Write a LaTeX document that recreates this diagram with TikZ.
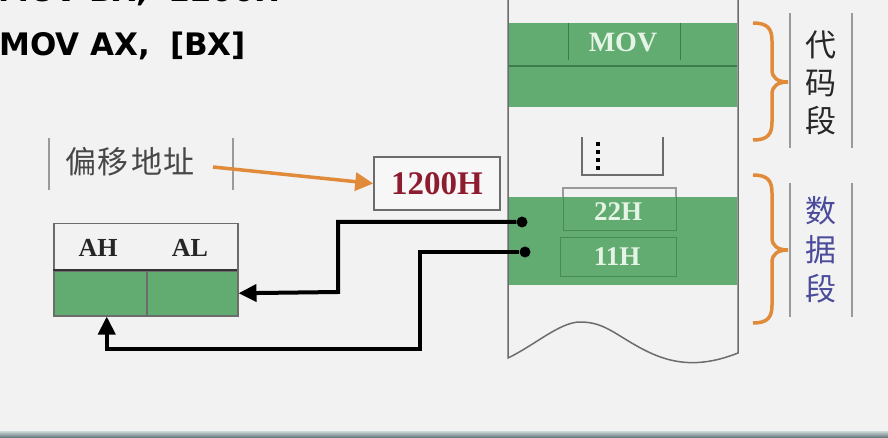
\documentclass[tikz,border=0pt]{standalone}
\usepackage{fontspec}
\setmainfont{Liberation Serif}
\newfontfamily\cjk{Noto Sans CJK SC}
\newfontfamily\verd{DejaVu Sans}
\usetikzlibrary{arrows.meta}
\definecolor{bgc}{HTML}{F2F2F2}
\definecolor{memgreen}{HTML}{62AC72}
\definecolor{darkgreen}{HTML}{3E7A4C}
\definecolor{orng}{HTML}{E08A3A}
\definecolor{dred}{HTML}{8E1C30}
\definecolor{segblue}{HTML}{4B4B9B}
\definecolor{linegray}{HTML}{6C6C6C}
\definecolor{lightline}{HTML}{9A9A9A}
\definecolor{greentext}{HTML}{E6F4E6}
\definecolor{striptop}{HTML}{CDD8DA}
\definecolor{stripbot}{HTML}{5C6E72}
\tikzset{
  conn/.style={line width=4pt, black, -{Triangle[length=18pt,width=17pt]}},
  greenlabel/.style={text=greentext, font=\bfseries\fontsize{27}{27}\selectfont, inner sep=0pt},
  seglabel/.style={font=\cjk\fontsize{31}{31}\selectfont, inner sep=0pt},
  brace/.style={orng, line width=3.5pt},
  sideline/.style={lightline, line width=1.8pt},
  regcell/.style={draw=linegray, line width=1.5pt, fill=memgreen, minimum height=45pt, inner sep=0pt},
  dot/.style={circle, fill=black, minimum size=11pt, inner sep=0pt},
  instr/.style={anchor=base west, inner sep=0pt, font=\verd\bfseries\fontsize{31}{31}\selectfont}
}
\begin{document}
\begin{tikzpicture}[x=1pt,y=-1pt]
\useasboundingbox (0,0) rectangle (888,438);
\fill[bgc] (0,0) rectangle (888,438);
\shade[top color=striptop, bottom color=stripbot] (0,431) rectangle (888,438);

% instructions (the first one is cut by the top edge, as in the reference)
\begin{scope}
\clip (0,0) rectangle (888,438);
\node[instr] (ins1) at (-2,2) {MOV BX,\hspace{20pt}1200H};
\node[instr] (ins2) at (-1,56) {MOV AX,\hspace{20pt}[BX]};
\end{scope}

% memory column
\draw[linegray, line width=1.5pt] (508,-5) -- (508,358)
  .. controls (535,345) and (560,322) .. (580,322)
  .. controls (600,322) and (610,330) .. (630,342)
  .. controls (660,360) and (690,372) .. (738,353) -- (738,-5);
\fill[memgreen] (509,23) rectangle (737,107);
\draw[darkgreen, line width=1.5pt] (509,66) -- (737,66);
\draw[darkgreen, line width=1pt] (568,23) -- (568,60) (680,23) -- (680,60);
\node[greenlabel, font=\bfseries\fontsize{28}{28}\selectfont] (mov) at (623,42) {MOV};

% dots box
\draw[linegray, line width=1.5pt] (582,137) -- (582,175) -- (663,175) -- (663,137);
\draw[black, line width=3.5pt, dash pattern=on 4pt off 4pt] (598,142) -- (598,172);

% data segment
\draw[lightline, line width=1.5pt] (563,197) -- (563,188) -- (676,188) -- (676,197);
\fill[memgreen] (509,197) rectangle (737,285);
\draw[darkgreen!70!memgreen, line width=1pt] (563,197) -- (563,231) -- (676,231) -- (676,197);
\draw[darkgreen!70!memgreen, line width=1pt] (560,238) rectangle (676,276);
\node[greenlabel] (b22) at (618,212) {22H};
\node[greenlabel] (b11) at (617,257) {11H};
\node[dot] (d22) at (522,222) {};
\node[dot] (d11) at (525,252) {};

% braces
\draw[brace] (753,23) .. controls (768,23) and (772,29) .. (772,41) -- (772,70)
  .. controls (772,78) and (778,82) .. (788,82)
  .. controls (778,82) and (772,86) .. (772,94) -- (772,122)
  .. controls (772,134) and (768,140) .. (753,140);
\draw[brace] (753,175) .. controls (768,175) and (772,181) .. (772,193) -- (772,238)
  .. controls (772,246) and (778,250) .. (788,250)
  .. controls (778,250) and (772,254) .. (772,262) -- (772,305)
  .. controls (772,317) and (768,323) .. (753,323);

% segment labels
\draw[sideline] (790,13) -- (790,148) (852,13) -- (852,148);
\node[seglabel, text=black!85] (c1) at (821,45) {代};
\node[seglabel, text=black!85] (c2) at (821,83) {码};
\node[seglabel, text=black!85] (c3) at (821,121) {段};
\draw[sideline] (790,183) -- (790,317) (852,183) -- (852,317);
\node[seglabel, text=segblue] (s1) at (821,211) {数};
\node[seglabel, text=segblue] (s2) at (821,250) {据};
\node[seglabel, text=segblue] (s3) at (821,289) {段};

% offset label
\draw[sideline] (49,138) -- (49,190) (233,138) -- (233,190);
\node[font=\cjk\fontsize{31}{31}\selectfont, text=black!72, inner sep=0pt] (off) at (130,162) {偏\hspace{2pt}移\hspace{2pt}地\hspace{2pt}址};
\node[draw=linegray, line width=1.5pt, fill=bgc!60!white, minimum width=126pt, minimum height=53pt, inner sep=0pt,
      text=dred, font=\bfseries\fontsize{33}{33}\selectfont] (addr) at (437,183.5) {1200H};
\coordinate (offend) at (213,167);
\draw[orng, line width=3.5pt, -{Triangle[length=18pt,width=18pt]}] (offend) -- (addr.west);

% register
\node[draw=linegray, line width=1.5pt, minimum width=184pt, minimum height=47pt, inner sep=0pt, anchor=north west] (hdr) at (53,223) {};
\node[font=\bfseries\fontsize{26}{26}\selectfont, text=black!85, inner sep=0pt] (ah) at (98,248) {AH};
\node[font=\bfseries\fontsize{26}{26}\selectfont, text=black!85, inner sep=0pt] (al) at (190,248) {AL};
\node[regcell, minimum width=93pt, anchor=north west] (ahcell) at (53,270) {};
\node[regcell, minimum width=91pt, anchor=north west] (alcell) at (146,270) {};
\draw[black!80, line width=2pt] (53,270) -- (237,270);

% connectors
\draw[conn] (d22) -| (338,292) -- (alcell.east);
\draw[conn] (d11) -| (420,349) -| ([xshift=6.5pt]ahcell.south);
\end{tikzpicture}
\end{document}
